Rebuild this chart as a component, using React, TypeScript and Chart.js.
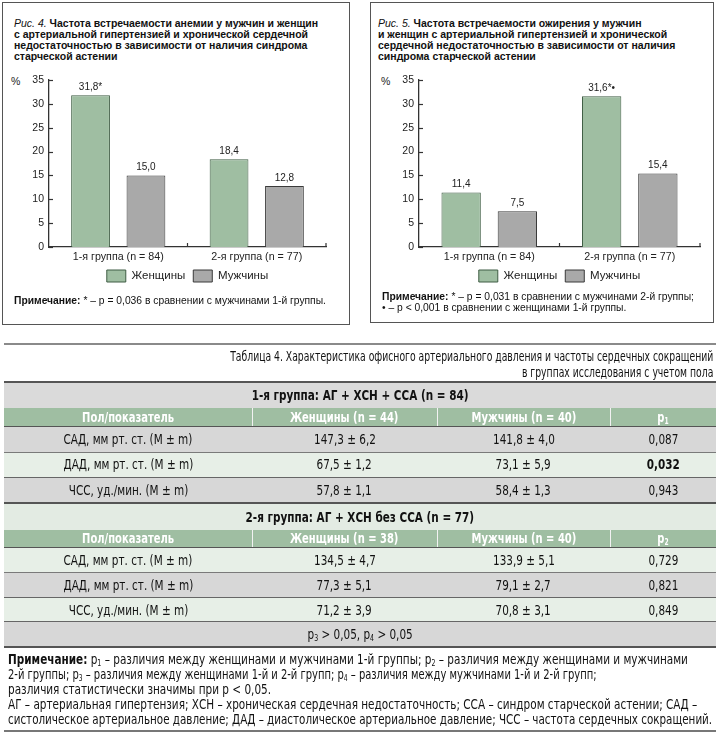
import React, { useEffect, useRef } from "react";
import { Chart, registerables } from "chart.js";
Chart.register(...registerables);

// ---------- chart data ----------
const groupLabels = ["1-я группа (n = 84)", "2-я группа (n = 77)"];
const seriesNames = ["Женщины", "Мужчины"];
const yMin = 0;
const yMax = 35;
const yStep = 5;

const fig4Women = [31.8, 18.4];
const fig4Men = [15.0, 12.8];
const fig4WomenLabels = ["31,8*", "18,4"];
const fig4MenLabels = ["15,0", "12,8"];

const fig5Women = [11.4, 31.6];
const fig5Men = [7.5, 15.4];
const fig5WomenLabels = ["11,4", "31,6*•"];
const fig5MenLabels = ["7,5", "15,4"];

// ---------- table data ----------
const rowLabels = ["САД, мм рт. ст. (М ± m)", "ДАД, мм рт. ст. (М ± m)", "ЧСС, уд./мин. (М ± m)"];
const g1Women = ["147,3 ± 6,2", "67,5 ± 1,2", "57,8 ± 1,1"];
const g1Men = ["141,8 ± 4,0", "73,1 ± 5,9", "58,4 ± 1,3"];
const g1P = ["0,087", "0,032", "0,943"];
const g1PBold = [false, true, false];
const g2Women = ["134,5 ± 4,7", "77,3 ± 5,1", "71,2 ± 3,9"];
const g2Men = ["133,9 ± 5,1", "79,1 ± 2,7", "70,8 ± 3,1"];
const g2P = ["0,729", "0,821", "0,849"];

const GREEN = "#9fbea2";
const GREEN_BORDER = "#3f5d44";
const GRAY = "#a9a9a9";
const GRAY_BORDER = "#3a3a3a";
const CF = '"Liberation Sans", Arial, sans-serif';
const TF = '"DejaVu Sans Condensed", "DejaVu Sans", sans-serif';

type BarProps = {
  women: number[];
  men: number[];
  womenLabels: string[];
  menLabels: string[];
  left: number;
  top: number;
  width: number;
  height: number;
  padRight: number;
};

function BarChart(p: BarProps) {
  const ref = useRef<HTMLCanvasElement>(null);
  useEffect(() => {
    if (!ref.current) return;
    const valueLabels = [p.womenLabels, p.menLabels];
    const labelPlugin = {
      id: "valueLabels",
      afterDatasetsDraw(chart: any) {
        const ctx = chart.ctx;
        ctx.save();
        ctx.font = `10px ${CF}`;
        ctx.fillStyle = "#222";
        ctx.textAlign = "center";
        ctx.textBaseline = "bottom";
        chart.data.datasets.forEach((_ds: any, di: number) => {
          const meta = chart.getDatasetMeta(di);
          meta.data.forEach((bar: any, i: number) => {
            ctx.fillText(valueLabels[di][i], bar.x, bar.y - 3);
          });
        });
        ctx.restore();
      },
    };
    const axisTicks = {
      id: "axisTicks",
      afterDraw(chart: any) {
        const x = chart.scales.x;
        const y = chart.scales.y;
        const area = chart.chartArea;
        const ctx = chart.ctx;
        ctx.save();
        ctx.strokeStyle = "#333";
        ctx.lineWidth = 1.2;
        const n = chart.data.labels.length;
        for (let i = 1; i <= n; i++) {
          const px = i < n ? (x.getPixelForTick(i - 1) + x.getPixelForTick(i)) / 2 : area.right;
          ctx.beginPath();
          ctx.moveTo(px, area.bottom);
          ctx.lineTo(px, area.bottom - 4);
          ctx.stroke();
        }
        y.ticks.forEach((t: any) => {
          const py = Math.round(y.getPixelForValue(t.value)) + 0.5;
          ctx.beginPath();
          ctx.moveTo(area.left, py);
          ctx.lineTo(area.left + 4, py);
          ctx.stroke();
        });
        ctx.restore();
      },
    };
    const chart = new Chart(ref.current, {
      type: "bar",
      data: {
        labels: groupLabels,
        datasets: [
          {
            label: seriesNames[0],
            data: p.women,
            backgroundColor: GREEN,
            borderColor: GREEN_BORDER,
            borderWidth: 1,
            categoryPercentage: 0.8,
            barPercentage: 0.7,
          },
          {
            label: seriesNames[1],
            data: p.men,
            backgroundColor: GRAY,
            borderColor: GRAY_BORDER,
            borderWidth: 1,
            categoryPercentage: 0.8,
            barPercentage: 0.7,
          },
        ],
      },
      options: {
        responsive: false,
        animation: false,
        layout: { padding: { left: 0, right: p.padRight, top: 18, bottom: 8 } },
        plugins: {
          legend: {
            position: "bottom",
            fullSize: false,
            labels: {
              boxWidth: 19,
              boxHeight: 12,
              padding: 8,
              color: "#222",
              font: { size: 11.5, family: CF },
            },
          },
          tooltip: { enabled: false },
        },
        scales: {
          x: {
            grid: { display: false, drawTicks: false },
            border: { display: true, color: "#333", width: 1.3 },
            ticks: { color: "#222", padding: 4, font: { size: 10.7, family: CF } },
            afterFit: (s: any) => {
              s.height = 15;
            },
          },
          y: {
            min: yMin,
            max: yMax,
            grid: { display: false, drawTicks: false },
            border: { display: true, color: "#333", width: 1.3 },
            ticks: { stepSize: yStep, color: "#222", padding: 5, font: { size: 10.5, family: CF } },
            afterFit: (s: any) => {
              s.width = 45;
            },
          },
        },
      },
      plugins: [labelPlugin, axisTicks],
    });
    return () => chart.destroy();
  }, []);
  return (
    <canvas
      ref={ref}
      width={p.width}
      height={p.height}
      style={{ position: "absolute", left: p.left, top: p.top, width: p.width, height: p.height }}
    />
  );
}

const abs = (s: React.CSSProperties): React.CSSProperties => ({ position: "absolute", ...s });

function Sub({ n }: { n: string }) {
  return <sub style={{ fontSize: "0.6em", verticalAlign: "-0.25em", lineHeight: 0 }}>{n}</sub>;
}

function Sx({ k, origin, children }: { k: number; origin: string; children: React.ReactNode }) {
  return (
    <span style={{ display: "inline-block", transform: `scaleX(${k})`, transformOrigin: origin, whiteSpace: "nowrap" }}>
      {children}
    </span>
  );
}

const colEdges = [4, 252, 437, 610, 716];
const ROW_K = 0.86;
const HEAD_K = 0.82;

function Cells({ top, height, cells, color, weight, k }: { top: number; height: number; cells: React.ReactNode[]; color?: string; weight?: (number | string)[]; k: number }) {
  return (
    <>
      {cells.map((c, i) => (
        <div
          key={i}
          style={abs({
            left: colEdges[i],
            width: colEdges[i + 1] - colEdges[i],
            top,
            height,
            lineHeight: height + "px",
            textAlign: "center",
            color: color || "#111",
            fontWeight: weight ? (weight[i] as any) : "normal",
            whiteSpace: "nowrap",
          })}
        >
          <Sx k={k} origin="center">{c}</Sx>
        </div>
      ))}
    </>
  );
}

function HLine({ top, h, color }: { top: number; h: number; color: string }) {
  return <div style={abs({ left: 4, width: 712, top, height: h, background: color })} />;
}

function Band({ top, height, bg }: { top: number; height: number; bg: string }) {
  return <div style={abs({ left: 4, width: 712, top, height, background: bg })} />;
}

function HeaderRow({ top, height, cells }: { top: number; height: number; cells: React.ReactNode[] }) {
  return (
    <>
      <Band top={top} height={height} bg={GREEN} />
      {[1, 2, 3].map((i) => (
        <div key={i} style={abs({ left: colEdges[i], top, width: 1, height, background: "#f2f2f2" })} />
      ))}
      <Cells top={top} height={height} cells={cells} color="#fff" weight={["bold", "bold", "bold", "bold"]} k={HEAD_K} />
    </>
  );
}

function NoteLine({ k, children }: { k: number; children: React.ReactNode }) {
  return (
    <div style={{ height: 15, lineHeight: "15px", whiteSpace: "nowrap" }}>
      <Sx k={k} origin="left">{children}</Sx>
    </div>
  );
}

export default function App() {
  const LG = "#e7efe7";
  const GR = "#d7d7d7";
  const g1Tops = [427, 452, 477.5];
  const g1Bg = [GR, LG, GR];
  const g2Tops = [548, 573, 598];
  const g2Bg = [LG, GR, LG];
  return (
    <div style={abs({ left: 0, top: 0, width: 720, height: 736, background: "#fff", overflow: "hidden", fontFamily: CF })}>
      {/* ---- Figure 4 ---- */}
      <div style={abs({ left: 2, top: 2, width: 348, height: 323, border: "1.5px solid #555", boxSizing: "border-box" })} />
      <div style={abs({ left: 14, top: 18, fontSize: 10.5, lineHeight: "11px", color: "#111", whiteSpace: "nowrap" })}>
        <span style={{ fontStyle: "italic" }}>Рис. 4.</span>{" "}
        <b>Частота встречаемости анемии у мужчин и женщин</b>
        <br />
        <b>с артериальной гипертензией и хронической сердечной</b>
        <br />
        <b>недостаточностью в зависимости от наличия синдрома</b>
        <br />
        <b>старческой астении</b>
      </div>
      <div style={abs({ left: 11, top: 75, fontSize: 10.5, color: "#222" })}>%</div>
      <BarChart
        women={fig4Women}
        men={fig4Men}
        womenLabels={fig4WomenLabels}
        menLabels={fig4MenLabels}
        left={4}
        top={62}
        width={344}
        height={238}
        padRight={22}
      />
      <div style={abs({ left: 14, top: 295, fontSize: 10.3, lineHeight: "12px", color: "#111", whiteSpace: "nowrap" })}>
        <b>Примечание:</b> * – р = 0,036 в сравнении с мужчинами 1-й группы.
      </div>

      {/* ---- Figure 5 ---- */}
      <div style={abs({ left: 370, top: 2, width: 344, height: 321, border: "1.5px solid #555", boxSizing: "border-box" })} />
      <div style={abs({ left: 378, top: 18, fontSize: 10.5, lineHeight: "11px", color: "#111", whiteSpace: "nowrap" })}>
        <span style={{ fontStyle: "italic" }}>Рис. 5.</span>{" "}
        <b>Частота встречаемости ожирения у мужчин</b>
        <br />
        <b>и женщин с артериальной гипертензией и хронической</b>
        <br />
        <b>сердечной недостаточностью в зависимости от наличия</b>
        <br />
        <b>синдрома старческой астении</b>
      </div>
      <div style={abs({ left: 381, top: 75, fontSize: 10.5, color: "#222" })}>%</div>
      <BarChart
        women={fig5Women}
        men={fig5Men}
        womenLabels={fig5WomenLabels}
        menLabels={fig5MenLabels}
        left={374}
        top={62}
        width={336}
        height={238}
        padRight={10}
      />
      <div style={abs({ left: 382, top: 291, fontSize: 10.3, lineHeight: "11px", color: "#111", whiteSpace: "nowrap" })}>
        <b>Примечание:</b> * – р = 0,031 в сравнении с мужчинами 2-й группы;
        <br />• – р &lt; 0,001 в сравнении с женщинами 1-й группы.
      </div>

      {/* ---- Table 4 ---- */}
      <div style={abs({ left: 0, top: 0, width: 720, height: 736, fontFamily: TF, fontSize: 13.5 })}>
        <HLine top={343} h={2} color="#8a8a8a" />
        <div
          style={abs({
            right: 7,
            top: 349,
            fontSize: 14,
            lineHeight: "15.5px",
            textAlign: "right",
            color: "#111",
            whiteSpace: "nowrap",
            transform: "scaleX(0.735)",
            transformOrigin: "right",
          })}
        >
          Таблица 4. Характеристика офисного артериального давления и частоты сердечных сокращений
          <br />в группах исследования с учетом пола
        </div>
        <HLine top={381} h={2} color="#555" />

        {/* group 1 */}
        <Band top={383} height={25} bg="#dadada" />
        <div style={abs({ left: 4, width: 712, top: 383, height: 25, lineHeight: "25px", textAlign: "center", fontWeight: "bold", color: "#111" })}>
          <Sx k={ROW_K} origin="center">1-я группа: АГ + ХСН + ССА (n = 84)</Sx>
        </div>
        <HeaderRow
          top={408}
          height={18}
          cells={["Пол/показатель", "Женщины (n = 44)", "Мужчины (n = 40)", <span key="p">p<Sub n="1" /></span>]}
        />
        {rowLabels.map((lab, i) => (
          <React.Fragment key={"g1" + i}>
            <Band top={g1Tops[i]} height={25} bg={g1Bg[i]} />
            <Cells
              top={g1Tops[i]}
              height={25}
              cells={[lab, g1Women[i], g1Men[i], g1P[i]]}
              weight={["normal", "normal", "normal", g1PBold[i] ? "bold" : "normal"]}
              k={ROW_K}
            />
          </React.Fragment>
        ))}
        <HLine top={426} h={1} color="#555" />
        <HLine top={451.5} h={1} color="#7a7a7a" />
        <HLine top={476.5} h={1.2} color="#666" />
        <HLine top={502} h={2} color="#555" />

        {/* group 2 */}
        <Band top={504} height={26} bg="#e3ebe3" />
        <div style={abs({ left: 4, width: 712, top: 504, height: 26, lineHeight: "26px", textAlign: "center", fontWeight: "bold", color: "#111" })}>
          <Sx k={ROW_K} origin="center">2-я группа: АГ + ХСН без ССА (n = 77)</Sx>
        </div>
        <HeaderRow
          top={530}
          height={17}
          cells={["Пол/показатель", "Женщины (n = 38)", "Мужчины (n = 40)", <span key="p">p<Sub n="2" /></span>]}
        />
        {rowLabels.map((lab, i) => (
          <React.Fragment key={"g2" + i}>
            <Band top={g2Tops[i]} height={25} bg={g2Bg[i]} />
            <Cells top={g2Tops[i]} height={25} cells={[lab, g2Women[i], g2Men[i], g2P[i]]} k={ROW_K} />
          </React.Fragment>
        ))}
        <Band top={622} height={24} bg={GR} />
        <div style={abs({ left: 4, width: 712, top: 622, height: 24, lineHeight: "24px", textAlign: "center", color: "#111" })}>
          <Sx k={ROW_K} origin="center">
            p<Sub n="3" /> &gt; 0,05, p<Sub n="4" /> &gt; 0,05
          </Sx>
        </div>
        <HLine top={547} h={1} color="#555" />
        <HLine top={572} h={1} color="#7a7a7a" />
        <HLine top={597} h={1.2} color="#666" />
        <HLine top={621} h={1.2} color="#666" />
        <HLine top={646} h={2} color="#555" />

        {/* notes */}
        <div style={abs({ left: 8, top: 651.5, fontSize: 13.5, color: "#111" })}>
          <NoteLine k={0.862}>
            <b>Примечание:</b> p<Sub n="1" /> – различия между женщинами и мужчинами 1-й группы; p<Sub n="2" /> – различия между женщинами и мужчинами
          </NoteLine>
          <NoteLine k={0.82}>
            2-й группы; p<Sub n="3" /> – различия между женщинами 1-й и 2-й групп; p<Sub n="4" /> – различия между мужчинами 1-й и 2-й групп;
          </NoteLine>
          <NoteLine k={0.862}>различия статистически значимы при p &lt; 0,05.</NoteLine>
          <NoteLine k={0.862}>
            АГ – артериальная гипертензия; ХСН – хроническая сердечная недостаточность; ССА – синдром старческой астении; САД –
          </NoteLine>
          <NoteLine k={0.853}>
            систолическое артериальное давление; ДАД – диастолическое артериальное давление; ЧСС – частота сердечных сокращений.
          </NoteLine>
        </div>
        <HLine top={730} h={2} color="#777" />
      </div>
    </div>
  );
}
